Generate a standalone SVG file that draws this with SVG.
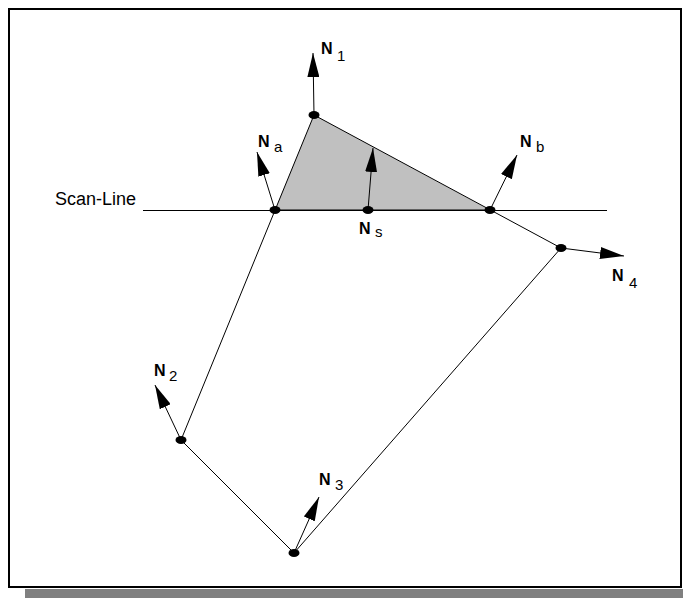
<svg xmlns="http://www.w3.org/2000/svg" width="683" height="599" viewBox="0 0 683 599">
<style>
.edge{stroke:#000;stroke-width:1;fill:none}
.nrm{stroke:#000;stroke-width:1;fill:none;marker-end:url(#ah)}
.dot{fill:#000}
.lb{font-family:"Liberation Sans",Arial,sans-serif;font-weight:bold;font-size:16px;fill:#000}
.sub{font-family:"Liberation Sans",Arial,sans-serif;font-size:15px;fill:#000}
.txt{font-family:"Liberation Sans",Arial,sans-serif;font-size:18px;fill:#000}
</style>
<defs>
<marker id="ah" markerUnits="userSpaceOnUse" markerWidth="24" markerHeight="12" refX="24" refY="6" orient="auto" viewBox="0 0 24 12">
<path d="M0,0 L24,6 L0,12 Z" fill="#000"/>
</marker>
</defs>
<rect x="25" y="589" width="658" height="9" fill="#808080"/>
<rect x="9" y="9" width="672" height="578" fill="#fff" stroke="#000" stroke-width="2"/>
<polygon points="314,115 275,210 490,210" fill="#c0c0c0"/>
<g id="connectors">
<line class="edge" x1="143" y1="210.5" x2="607" y2="210.5"/>
<line class="edge" x1="314" y1="115" x2="561" y2="248"/>
<line class="edge" x1="314" y1="115" x2="181" y2="440"/>
<line class="edge" x1="181" y1="440" x2="294" y2="553"/>
<line class="edge" x1="294" y1="553" x2="561" y2="248"/>
<line class="edge" x1="275" y1="210" x2="490" y2="210" stroke-width="2"/>
<line class="nrm" x1="314" y1="115" x2="313" y2="53"/>
<line class="nrm" x1="275" y1="210" x2="257" y2="152"/>
<line class="nrm" x1="368" y1="210" x2="373" y2="148"/>
<line class="nrm" x1="490" y1="210" x2="517" y2="155"/>
<line class="nrm" x1="561" y1="248" x2="624" y2="256"/>
<line class="nrm" x1="181" y1="440" x2="155" y2="385"/>
<line class="nrm" x1="294" y1="553" x2="319" y2="497"/>
</g>
<g id="scanline-label"><text class="txt" x="55" y="205">Scan-Line</text></g>
<g id="v1"><ellipse class="dot" cx="314" cy="115" rx="5.5" ry="4"/><text class="lb" x="321" y="54">N</text><text class="sub" x="337" y="61">1</text></g>
<g id="va"><ellipse class="dot" cx="275" cy="210" rx="5.5" ry="4"/><text class="lb" x="258" y="147">N</text><text class="sub" x="274" y="152">a</text></g>
<g id="vs"><ellipse class="dot" cx="368" cy="210" rx="5.5" ry="4"/><text class="lb" x="359" y="234">N</text><text class="sub" x="375" y="237">s</text></g>
<g id="vb"><ellipse class="dot" cx="490" cy="210" rx="5.5" ry="4"/><text class="lb" x="520" y="147">N</text><text class="sub" x="536" y="152">b</text></g>
<g id="v4"><ellipse class="dot" cx="561" cy="248" rx="5.5" ry="4"/><text class="lb" x="612" y="281">N</text><text class="sub" x="629" y="288">4</text></g>
<g id="v2"><ellipse class="dot" cx="181" cy="440" rx="5.5" ry="4"/><text class="lb" x="154" y="376">N</text><text class="sub" x="169" y="381">2</text></g>
<g id="v3"><ellipse class="dot" cx="294" cy="553" rx="5.5" ry="4"/><text class="lb" x="319" y="485">N</text><text class="sub" x="335" y="490">3</text></g>
</svg>
